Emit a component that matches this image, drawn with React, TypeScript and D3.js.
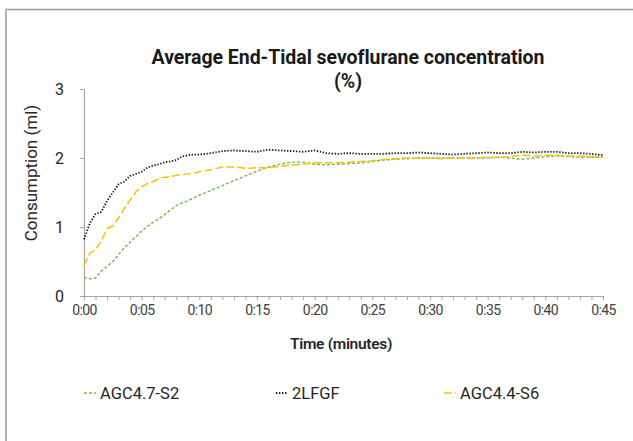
import { useRef, useEffect } from "react";
import * as d3 from "d3";

// sample times (minutes): half-minute steps for the first 10 min, then every minute
const minutes: number[] = [
  0, 0.5, 1, 1.5, 2, 2.5, 3, 3.5, 4, 4.5, 5, 5.5, 6, 6.5, 7, 7.5, 8, 8.5, 9, 9.5, 10,
  11, 12, 13, 14, 15, 16, 17, 18, 19, 20, 21, 22, 23, 24, 25, 26, 27, 28, 29, 30,
  31, 32, 33, 34, 35, 36, 37, 38, 39, 40, 41, 42, 43, 44, 45,
];

const agc47s2: number[] = [
  0.27, 0.25, 0.26, 0.36, 0.43, 0.5, 0.6, 0.7, 0.78, 0.86, 0.94, 1.01, 1.07, 1.12, 1.18, 1.25,
  1.31, 1.35, 1.38, 1.42, 1.46,
  1.53, 1.6, 1.67, 1.74, 1.81, 1.87, 1.91, 1.94, 1.94, 1.91, 1.9, 1.91, 1.92, 1.93, 1.95,
  1.97, 1.98, 1.99, 2.0, 2.0, 2.0, 2.0, 2.0, 2.0, 2.0, 2.01, 2.0, 1.98, 2.0, 2.02, 2.03,
  2.02, 2.01, 2.01, 2.01,
];

const lfgf2: number[] = [
  0.82, 1.05, 1.19, 1.22, 1.38, 1.5, 1.62, 1.66, 1.74, 1.77, 1.8, 1.86, 1.89, 1.91, 1.94, 1.95,
  1.97, 2.02, 2.04, 2.05, 2.05,
  2.07, 2.1, 2.11, 2.1, 2.09, 2.12, 2.11, 2.1, 2.09, 2.11, 2.07, 2.06, 2.07, 2.06, 2.06,
  2.06, 2.07, 2.07, 2.08, 2.07, 2.06, 2.05, 2.06, 2.07, 2.08, 2.07, 2.07, 2.09, 2.08, 2.09,
  2.09, 2.07, 2.07, 2.06, 2.04,
];

const agc44s6: number[] = [
  0.44, 0.62, 0.67, 0.8, 0.97, 1.02, 1.13, 1.27, 1.39, 1.51, 1.58, 1.63, 1.66, 1.7, 1.72, 1.73,
  1.75, 1.76, 1.77, 1.78, 1.8,
  1.83, 1.87, 1.87, 1.85, 1.86, 1.86, 1.88, 1.9, 1.91, 1.93, 1.93, 1.93, 1.94, 1.95, 1.96,
  1.98, 1.99, 2.0, 2.0, 2.0, 1.99, 2.0, 2.0, 2.0, 2.01, 2.01, 2.02, 2.04, 2.03, 2.04,
  2.04, 2.03, 2.03, 2.02, 2.02,
];

const seriesNames = ["AGC4.7-S2", "2LFGF", "AGC4.4-S6"];
const yTicks = [0, 1, 2, 3];
const xLabelEvery = 5;

const seriesStyle: Record<string, { color: string; dash: string; width: number }> = {
  "AGC4.7-S2": { color: "#74b850", dash: "3,2", width: 1.4 },
  "2LFGF": { color: "#1a1a1a", dash: "1.4,1.6", width: 1.8 },
  "AGC4.4-S6": { color: "#ffc000", dash: "8,3", width: 1.5 },
};

export default function App() {
  const svgRef = useRef<SVGSVGElement>(null);

  useEffect(() => {
    if (!svgRef.current) return;
    const svg = d3.select(svgRef.current);
    svg.selectAll("*").remove();

    const width = 633;
    const height = 441;
    const font = "Roboto, 'Noto Sans', sans-serif";

    svg.attr("width", width).attr("height", height);

    // outer frame (only top and left edges are visible)
    svg
      .append("rect")
      .attr("x", 6)
      .attr("y", 9.5)
      .attr("width", 700)
      .attr("height", 500)
      .attr("fill", "#fff")
      .attr("stroke", "#9a9a9a")
      .attr("stroke-width", 1.5);

    const x = d3.scaleLinear().domain([0, 45]).range([84, 603]);
    const y = d3.scaleLinear().domain([0, 3]).range([296, 89]);

    const data: Record<string, number[]> = {
      "AGC4.7-S2": agc47s2,
      "2LFGF": lfgf2,
      "AGC4.4-S6": agc44s6,
    };

    // axes
    const axisColor = "#a6a6a6";
    const xAxis = svg
      .append("g")
      .attr("transform", `translate(0,${y(0)})`)
      .call(
        d3
          .axisBottom(x)
          .tickValues(d3.range(0, 46, 1))
          .tickSize(4)
          .tickSizeOuter(0)
          .tickFormat((d) => {
            const m = Number(d);
            return m % xLabelEvery === 0 ? `0:${String(m).padStart(2, "0")}` : "";
          })
      );
    xAxis.selectAll(".domain").attr("stroke", axisColor).attr("stroke-width", 1.2);
    xAxis.selectAll(".tick line").attr("stroke", axisColor);
    xAxis
      .selectAll(".tick text")
      .attr("fill", "#404040")
      .attr("font-family", font)
      .attr("font-size", "14px")
      .attr("letter-spacing", "-0.6px")
      .attr("dy", "0.95em")
      .attr("y", 6);

    const yAxis = svg
      .append("g")
      .attr("transform", `translate(${x(0)},0)`)
      .call(d3.axisLeft(y).tickValues(yTicks).tickSize(4).tickSizeOuter(0).tickFormat(d3.format("d")));
    yAxis.selectAll(".domain").attr("stroke", axisColor).attr("stroke-width", 1.2);
    yAxis.selectAll(".tick line").attr("stroke", axisColor);
    yAxis
      .selectAll(".tick text")
      .attr("fill", "#262626")
      .attr("font-family", font)
      .attr("font-size", "16px")
      .attr("x", -20);

    // lines
    const line = d3
      .line<number>()
      .x((_, i) => x(minutes[i]))
      .y((v) => y(v));

    seriesNames.forEach((name) => {
      const st = seriesStyle[name];
      svg
        .append("path")
        .datum(data[name])
        .attr("fill", "none")
        .attr("stroke", st.color)
        .attr("stroke-width", st.width)
        .attr("stroke-dasharray", st.dash)
        .attr("d", line);
    });

    // title
    const title = svg
      .append("text")
      .attr("text-anchor", "middle")
      .attr("fill", "#1a1a1a")
      .attr("font-family", font)
      .attr("font-weight", 700)
      .attr("font-size", "19.5px")
      .attr("letter-spacing", "-0.05px");
    title.append("tspan").attr("x", 348).attr("y", 64).text("Average End-Tidal sevoflurane concentration");
    title.append("tspan").attr("x", 348).attr("y", 88).text("(%)");

    // axis titles
    svg
      .append("text")
      .attr("transform", `translate(37,173) rotate(-90)`)
      .attr("text-anchor", "middle")
      .attr("fill", "#262626")
      .attr("font-family", font)
      .attr("font-size", "17px")
      .text("Consumption (ml)");

    svg
      .append("text")
      .attr("x", 341)
      .attr("y", 349)
      .attr("text-anchor", "middle")
      .attr("fill", "#262626")
      .attr("font-family", font)
      .attr("font-weight", 600)
      .attr("font-size", "15.5px")
      .attr("letter-spacing", "-0.3px")
      .text("Time (minutes)");

    // legend
    const legendX = [84, 276, 444];
    seriesNames.forEach((name, i) => {
      const st = seriesStyle[name];
      const g = svg.append("g").attr("transform", `translate(${legendX[i]},393)`);
      g.append("line")
        .attr("x1", 0)
        .attr("x2", 12)
        .attr("stroke", st.color)
        .attr("stroke-width", st.width)
        .attr("stroke-dasharray", st.dash);
      g.append("text")
        .attr("x", 16)
        .attr("dy", "0.35em")
        .attr("fill", "#262626")
        .attr("font-family", font)
        .attr("font-size", "16.5px")
        .text(name);
    });
  }, []);

  return <svg ref={svgRef} style={{ position: "absolute", left: 0, top: 0 }} />;
}
